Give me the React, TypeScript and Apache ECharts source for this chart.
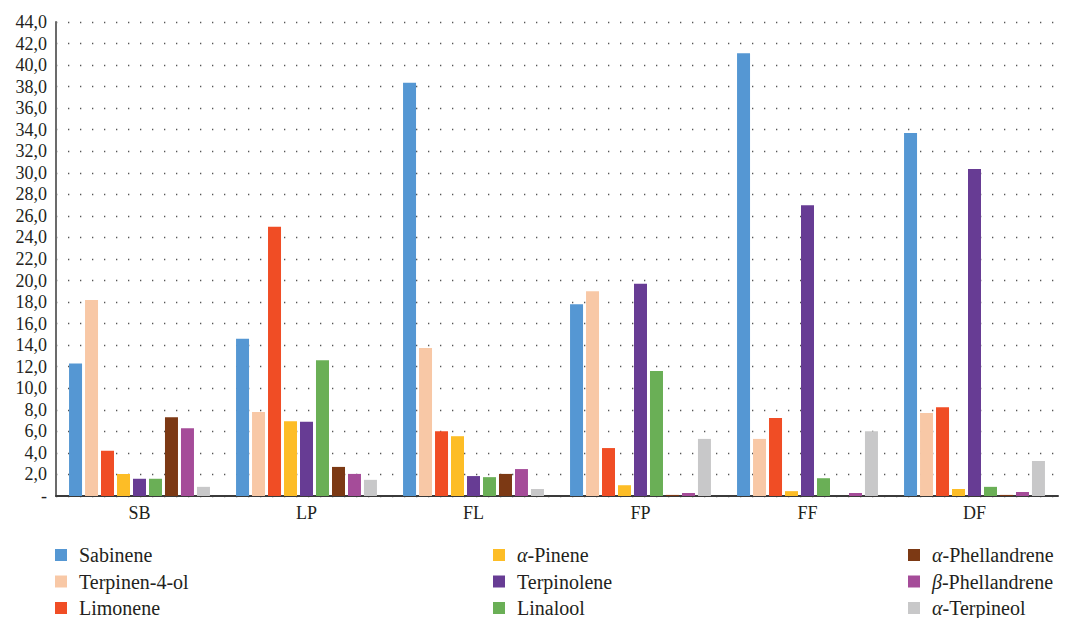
import React, { useEffect, useRef } from "react";
import * as echarts from "echarts";

const categories = ["SB", "LP", "FL", "FP", "FF", "DF"];
const seriesNames = [
  "Sabinene",
  "Terpinen-4-ol",
  "Limonene",
  "α-Pinene",
  "Terpinolene",
  "Linalool",
  "α-Phellandrene",
  "β-Phellandrene",
  "α-Terpineol",
];
const colors = [
  "#5597D3",
  "#F8C8A6",
  "#F04D25",
  "#FDBD26",
  "#673C94",
  "#6AAF56",
  "#7C3914",
  "#A54C99",
  "#C8C8C9",
];
const sabinene = [12.3, 14.6, 38.35, 17.8, 41.1, 33.7];
const terpinen4ol = [18.2, 7.8, 13.75, 19.0, 5.3, 7.7];
const limonene = [4.2, 25.0, 6.0, 4.45, 7.25, 8.25];
const alphaPinene = [2.05, 6.95, 5.55, 1.0, 0.45, 0.65];
const terpinolene = [1.6, 6.9, 1.85, 19.7, 27.0, 30.35];
const linalool = [1.6, 12.6, 1.75, 11.6, 1.65, 0.85];
const alphaPhellandrene = [7.3, 2.7, 2.05, 0.1, 0, 0.1];
const betaPhellandrene = [6.3, 2.05, 2.5, 0.28, 0.28, 0.37];
const alphaTerpineol = [0.85, 1.5, 0.65, 5.3, 6.0, 3.25];
const seriesValues = [
  sabinene,
  terpinen4ol,
  limonene,
  alphaPinene,
  terpinolene,
  linalool,
  alphaPhellandrene,
  betaPhellandrene,
  alphaTerpineol,
];
const yTicks = { min: 0, max: 44, interval: 2 };

const FONT = "Liberation Serif";

function legendFormatter(name: string) {
  const first = name.charAt(0);
  if (first === "α" || first === "β") {
    return "{i|" + first + "}" + name.slice(1);
  }
  return name;
}

export default function App() {
  const ref = useRef<HTMLDivElement>(null);
  useEffect(() => {
    document.body.style.margin = "0";
    if (!ref.current) return;
    const chart = echarts.init(ref.current, null, { renderer: "svg" });
    const legendText = {
      fontFamily: FONT,
      fontSize: 20,
      color: "#231F20",
      lineHeight: 22,
      padding: [0, 0, 0, 7],
      rich: {
        i: { fontFamily: FONT, fontSize: 20, fontStyle: "italic", color: "#231F20" },
      },
    };
    const mkLegend = (left: number, names: string[]) => ({
      left,
      top: 544,
      width: 220,
      height: 90,
      padding: 0,
      orient: "vertical",
      itemWidth: 12,
      itemHeight: 12,
      itemGap: 4.5,
      icon: "rect",
      data: names,
      formatter: legendFormatter,
      textStyle: legendText,
      selectedMode: false,
    });
    chart.setOption({
      animation: false,
      backgroundColor: "#ffffff",
      grid: { left: 56, right: 7, top: 22, bottom: 122, containLabel: false },
      legend: [
        mkLegend(55, seriesNames.slice(0, 3)),
        mkLegend(493, seriesNames.slice(3, 6)),
        mkLegend(908, seriesNames.slice(6, 9)),
      ],
      xAxis: {
        type: "category",
        data: categories,
        axisLine: { show: true, lineStyle: { color: "#3a3a3a", width: 2 } },
        axisTick: { show: false },
        axisLabel: { fontFamily: FONT, fontSize: 18, color: "#231F20", margin: 8 },
      },
      yAxis: {
        type: "value",
        min: yTicks.min,
        max: yTicks.max,
        interval: yTicks.interval,
        axisLine: { show: true, lineStyle: { color: "#6b6b6b", width: 2 } },
        axisTick: { show: false },
        axisLabel: {
          fontFamily: FONT,
          fontSize: 18,
          color: "#231F20",
          margin: 9,
          formatter: (v: number) => (v === 0 ? "-" : v.toFixed(1).replace(".", ",")),
        },
        splitLine: {
          show: true,
          lineStyle: { color: "#555", width: 1.3, type: [1.3, 10.7] },
        },
      },
      series: seriesNames.map((name, i) => ({
        name,
        type: "bar",
        data: seriesValues[i],
        barWidth: 13,
        barGap: "23%",
        itemStyle: { color: colors[i] },
      })),
    });
    return () => chart.dispose();
  }, []);
  return <div ref={ref} style={{ width: 1065, height: 618 }} />;
}
